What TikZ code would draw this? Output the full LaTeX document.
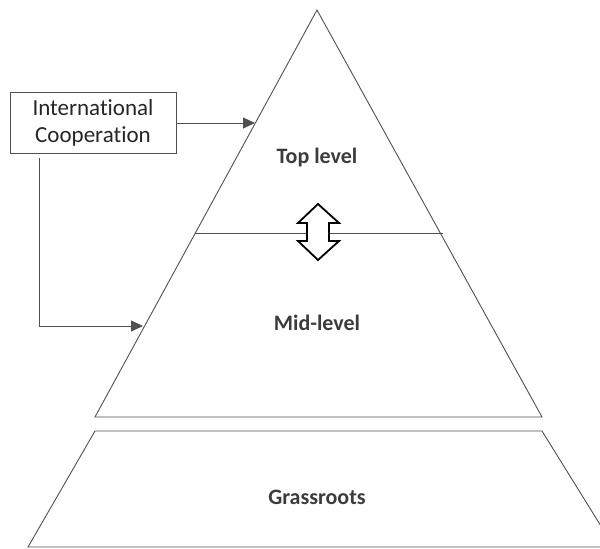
\documentclass[tikz,border=0pt]{standalone}
\usepackage{fontspec}
\setmainfont[Ligatures={NoCommon,NoDiscretionary}]{Carlito}
\usetikzlibrary{arrows.meta}
\definecolor{edgegray}{HTML}{505050}
\definecolor{labelgray}{HTML}{3C3C3C}
\tikzset{
	level/.style={font=\fontsize{22}{26}\selectfont\bfseries, text=labelgray},
	ibox/.style={draw=edgegray, line width=0.9pt, align=center, minimum width=166pt, minimum height=61pt, inner sep=0pt, font=\fontsize{23}{27}\selectfont, text=black!85},
	link/.style={draw=edgegray, line width=0.9pt, -{Triangle[length=12pt,width=11pt]}}
}
\begin{document}
\begin{tikzpicture}[x=1pt,y=-1pt]
	\useasboundingbox (0,0) rectangle (600,549);
	\clip (0,0) rectangle (600,549);
	\coordinate (apex) at (317,10);
	\coordinate (bl) at (95,417);
	\coordinate (br) at (542,417);
	\draw[edgegray, line width=0.9pt](apex)--(br)--(bl)--cycle;
	\draw[edgegray, line width=0.9pt](195,233)--(443,233);
	\draw[edgegray, line width=0.9pt](95,431)--(542,431)--(614,547)--(28,547)--cycle;
	\draw[black, line width=1.8pt, fill=white, line join=miter](318,204)--(339,223)--(329,223)--(329,241)--(339,241)--(318,260)--(298,241)--(307,241)--(307,223)--(298,223)--cycle;
	\node[level] (top) at (317,158) {Top level};
	\node[level] (mid) at (317,323) {Mid-level};
	\node[level] (grass) at (317,497) {Grassroots};
	\node[ibox] (coop) at (93,122.5) {International\\Cooperation};
	\coordinate (hitA) at (255,123);
	\coordinate (hitB) at (143,326);
	\coordinate (startB) at (39,158);
	\draw[link](coop.east|-hitA)--(hitA);
	\draw[link](startB)|-(hitB);
\end{tikzpicture}
\end{document}
